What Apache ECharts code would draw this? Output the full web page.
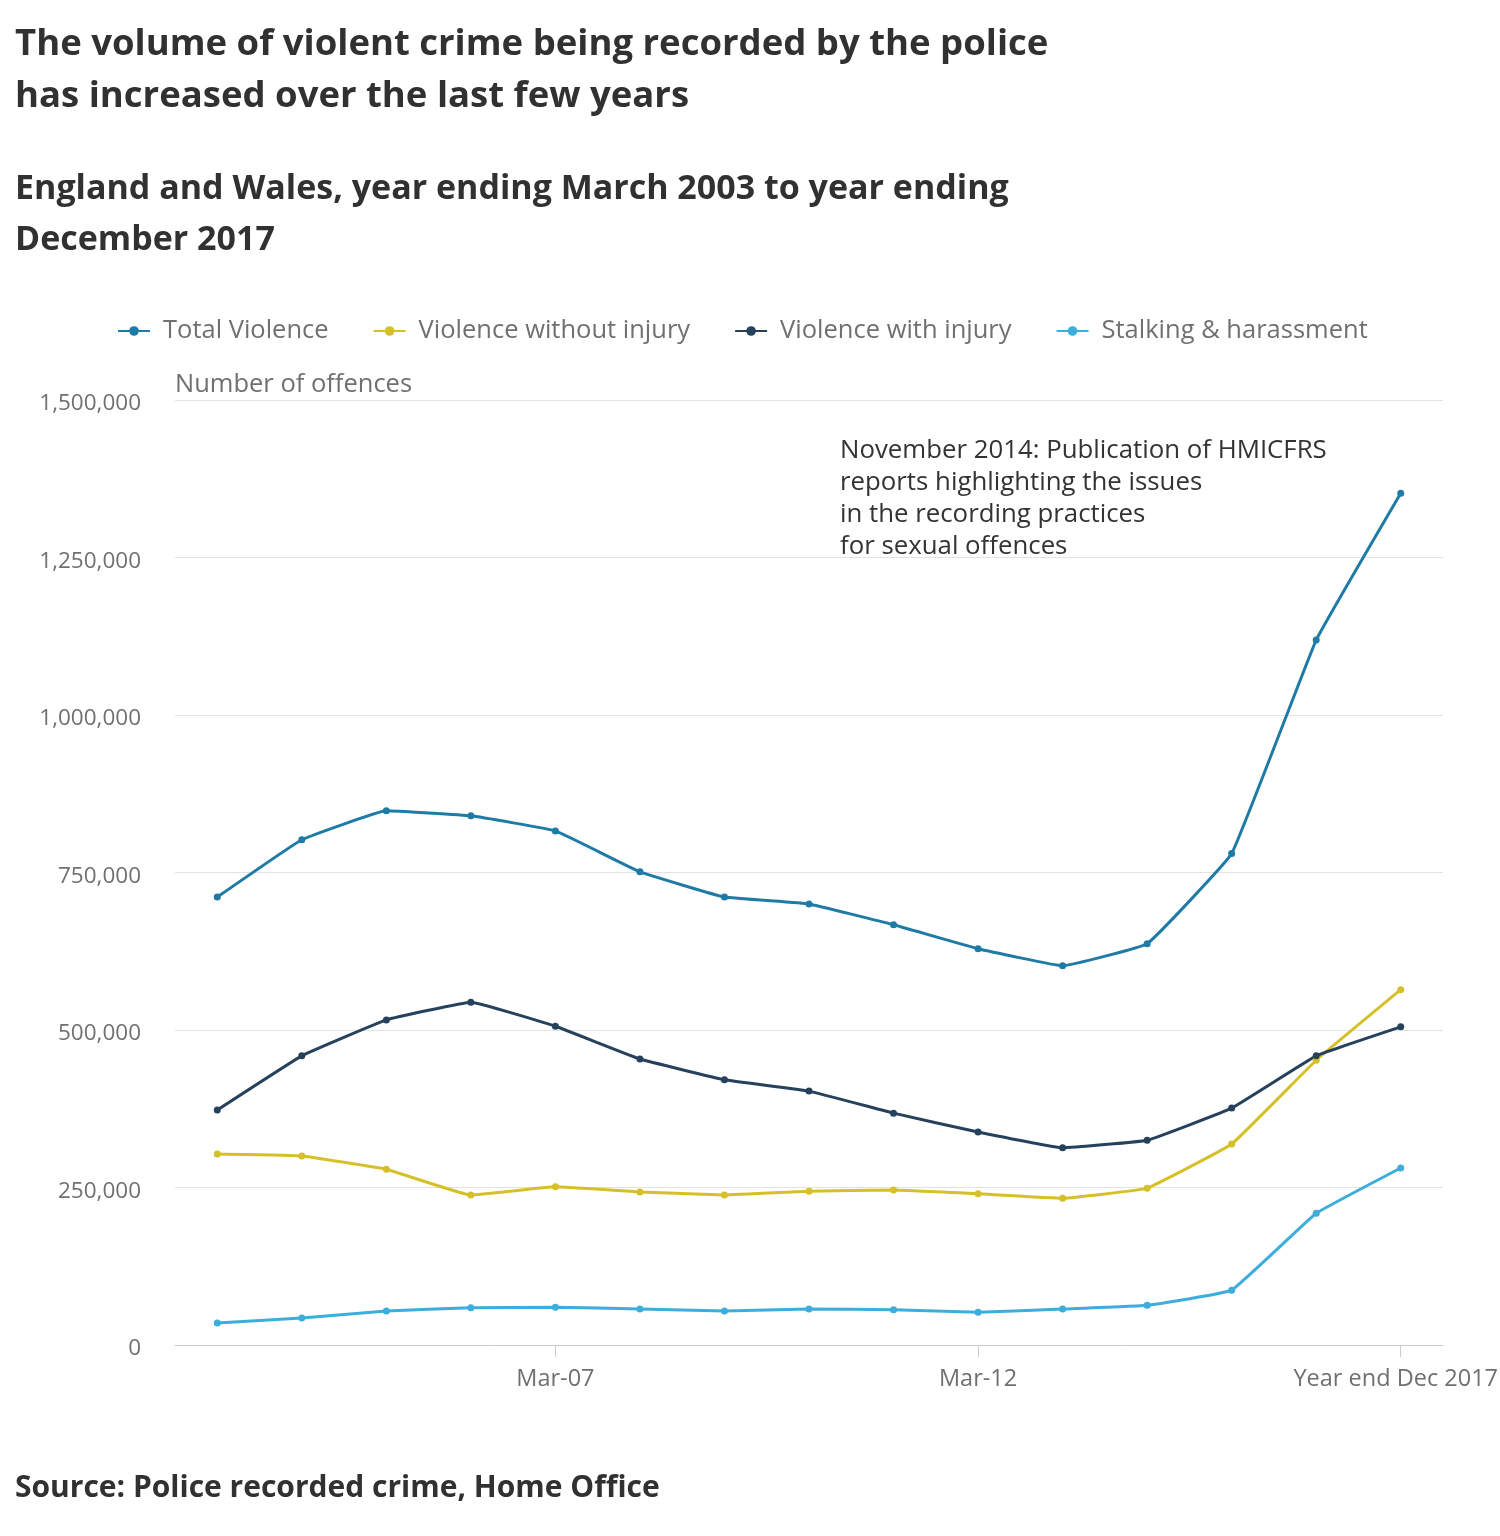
<!DOCTYPE html>
<html>
<head>
<meta charset="utf-8">
<script src="https://cdn.jsdelivr.net/npm/echarts@6/dist/echarts.min.js"></script>
<style>
html,body{margin:0;padding:0;background:#fff;}
#c{width:1500px;height:1536px;}
</style>
</head>
<body>
<div id="c"></div>
<script>
var categories = ["Mar-03","Mar-04","Mar-05","Mar-06","Mar-07","Mar-08","Mar-09","Mar-10","Mar-11","Mar-12","Mar-13","Mar-14","Mar-15","Mar-16","Year end Dec 2017"];
var totalViolence = [711000, 802000, 848000, 840000, 816000, 751000, 711000, 700000, 667000, 629000, 602000, 637000, 780000, 1119000, 1352000];
var violenceWithoutInjury = [303000, 300000, 279000, 238000, 251000, 243000, 238000, 244000, 246000, 240000, 233000, 249000, 319000, 452000, 564000];
var violenceWithInjury = [373000, 459000, 516000, 544000, 506000, 454000, 421000, 403000, 368000, 338000, 313000, 325000, 376000, 459000, 505000];
var stalkingHarassment = [35000, 43000, 54000, 59000, 60000, 57000, 54000, 57000, 56000, 52000, 57000, 63000, 87000, 209000, 281000];
var yTicks = [0, 250000, 500000, 750000, 1000000, 1250000, 1500000];
var labelledIdx = [4, 9, 14];

var chart = echarts.init(document.getElementById('c'), null, {renderer:'canvas'});
var F = '"Open Sans", "Noto Sans", sans-serif';
function ser(name, data, color){
  return {name:name, type:'line', data:data, smooth:0.08, symbol:'circle', symbolSize:7,
    lineStyle:{width:3, color:color}, itemStyle:{color:color}};
}
chart.setOption({
  animation:false,
  textStyle:{fontFamily:F},
  graphic:[
    {type:'text', left:15, top:19, style:{text:'The volume of violent crime being recorded by the police\nhas increased over the last few years', font:'bold 36.5px '+F, fill:'#323132', lineHeight:52}},
    {type:'text', left:15, top:164, style:{text:'England and Wales, year ending March 2003 to year ending\nDecember 2017', font:'bold 34px '+F, fill:'#323132', lineHeight:51}},
    {type:'text', left:175, top:372, style:{text:'Number of offences', font:'25.5px '+F, fill:'#707070'}},
    {type:'text', left:840, top:435, style:{text:'November 2014: Publication of HMICFRS\nreports highlighting the issues\nin the recording practices\nfor sexual offences', font:'25.8px '+F, fill:'#333333', lineHeight:32}},
    {type:'text', left:15, top:1473, style:{text:'Source: Police recorded crime, Home Office', font:'bold 30px '+F, fill:'#323132'}}
  ],
  legend:{top:313, left:112, itemWidth:32, itemHeight:12, itemGap:44,
    textStyle:{fontSize:25.5, color:'#707070', fontFamily:F, padding:[0,0,0,8]},
    data:['Total Violence','Violence without injury','Violence with injury','Stalking & harassment']},
  grid:{left:175, right:57, top:400, bottom:191, containLabel:false, outerBoundsMode:'none'},
  xAxis:{type:'category', data:categories, boundaryGap:true,
    axisLine:{lineStyle:{color:'#cccccc', width:1}},
    axisTick:{show:true, alignWithLabel:true, length:12, lineStyle:{color:'#cccccc'},
      interval:function(i){return labelledIdx.indexOf(i)>=0;}},
    axisLabel:{interval:function(i){return labelledIdx.indexOf(i)>=0;}, fontSize:23.5, color:'#707070', margin:22, fontFamily:F,
      formatter:function(v,i){return i===categories.length-1 ? '{l|'+v+'}' : v;},
      rich:{l:{fontSize:23.5, color:'#707070', fontFamily:F, padding:[0,10,0,0]}}}
  },
  yAxis:{type:'value', min:yTicks[0], max:yTicks[yTicks.length-1], interval:250000,
    axisLine:{show:false}, axisTick:{show:false},
    splitLine:{lineStyle:{color:'#e2e2e2', width:1}},
    axisLabel:{fontSize:22.5, color:'#707070', margin:34, fontFamily:F,
      formatter:function(v){return '{a|'+v.toLocaleString('en-GB')+'}';},
      rich:{a:{fontSize:22.5, color:'#707070', fontFamily:F, lineHeight:24, padding:[8,0,0,0]}}}
  },
  series:[
    ser('Total Violence', totalViolence, '#1E7BA6'),
    ser('Violence without injury', violenceWithoutInjury, '#D6C02A'),
    ser('Violence with injury', violenceWithInjury, '#26415B'),
    ser('Stalking & harassment', stalkingHarassment, '#3DAEDB')
  ]
});
</script>
</body>
</html>
